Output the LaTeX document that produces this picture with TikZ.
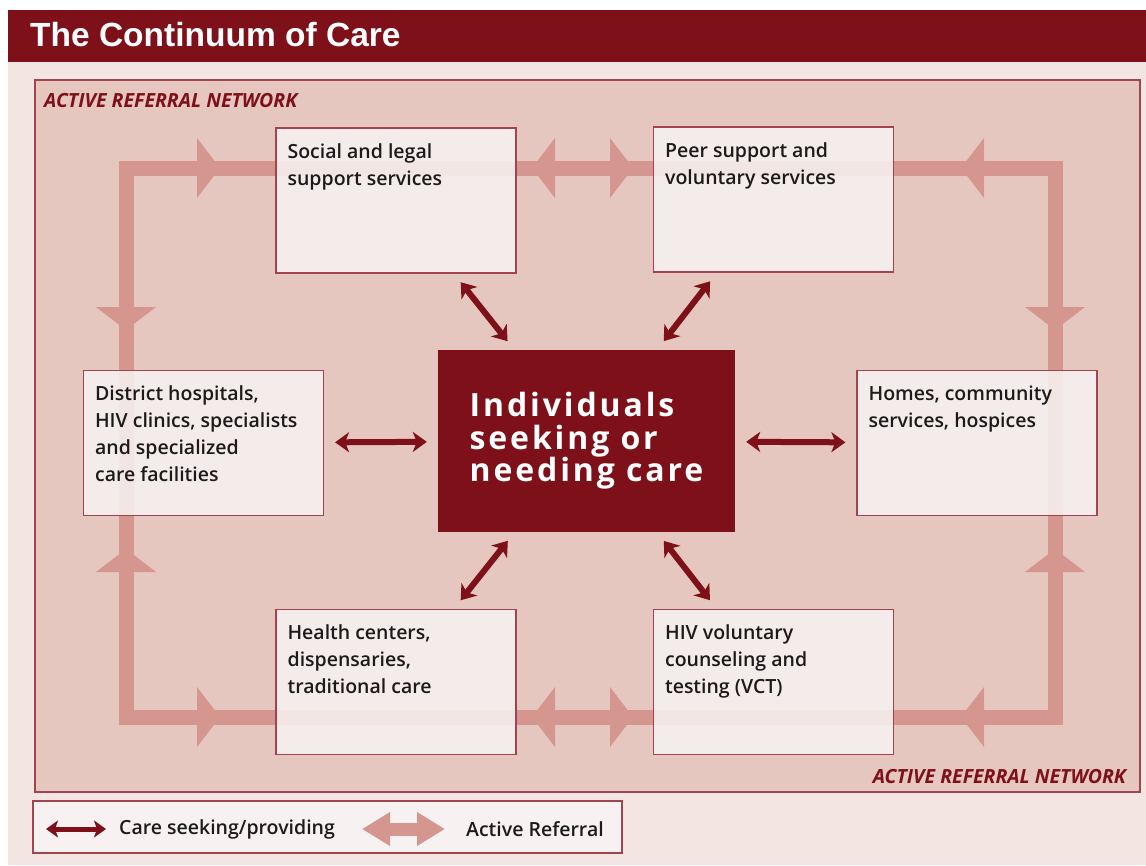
\documentclass[tikz,border=0pt]{standalone}
\usepackage{fontspec}
\setmainfont{Open Sans}
\newfontfamily\boxfont{Open Sans Semibold}
\newfontfamily\titlefont{Liberation Sans}
\newfontfamily\indivfont[LetterSpace=9]{Open Sans}
\usetikzlibrary{arrows.meta}

\definecolor{pagebg}{HTML}{F3E5E1}
\definecolor{netbg}{HTML}{E6C7BF}
\definecolor{refband}{HTML}{D4968F}
\definecolor{carered}{HTML}{7E1019}
\definecolor{boxline}{HTML}{A14450}
\definecolor{boxfill}{HTML}{F7F2F1}
\definecolor{boxtext}{HTML}{1C1A1A}

\tikzset{
  svcbox/.style={draw=boxline,line width=1.2pt,fill=boxfill,fill opacity=.88,minimum width=240pt,minimum height=145pt,inner sep=0pt},
  svctext/.style={anchor=north west,align=left,inner sep=0pt,text=boxtext,font=\boxfont\fontsize{19.5}{27}\selectfont,xshift=12pt,yshift=-16pt},
  care/.style={draw=carered,line width=6pt,{Stealth[length=14pt,width=20pt,inset=4pt]}-{Stealth[length=14pt,width=20pt,inset=4pt]},shorten <=11pt,shorten >=11pt},
  netlabel/.style={inner sep=0pt,text=carered,font=\bfseries\itshape\fontsize{19.5}{22}\selectfont},
  legtext/.style={anchor=west,inner sep=0pt,text=boxtext,font=\boxfont\fontsize{19.5}{22}\selectfont}
}

\begin{document}
\begin{tikzpicture}[x=1pt,y=-1pt]
	\useasboundingbox (0,0) rectangle (1146,865);
	\fill[pagebg] (8,10) rectangle (1146,865);
	\fill[carered] (8,10) rectangle (1146,62);
	\node[anchor=base west,inner sep=0pt,text=white,font=\titlefont\bfseries\fontsize{33.5}{38}\selectfont] (title) at (30,46) {The Continuum of Care};

	% referral network
	\draw[boxline,line width=1.2pt,fill=netbg] (35,80) rectangle (1140,792);
	\node[netlabel,anchor=base west] (nettop) at (44,107) {ACTIVE REFERRAL NETWORK};
	\node[netlabel,anchor=base east] (netbot) at (1126,783) {ACTIVE REFERRAL NETWORK};

	\coordinate (nw) at (126,168);
	\coordinate (ne) at (1055,168);
	\coordinate (se) at (1055,717);
	\coordinate (sw) at (126,717);
	\draw[refband,line width=15pt] (nw) -- (ne) -- (se) -- (sw) -- cycle;
	\foreach \x / \y / \a in {197/168/0,555/168/180,610/168/0,984/168/180,197/717/0,555/717/180,610/717/0,984/717/180,126/307/-90,126/572/90,1055/307/-90,1055/572/90} { \fill[refband,shift={(\x,\y)},rotate=\a] (0,-30) -- (23,0) -- (0,30) -- cycle;}

	% services
	\node[svcbox] (social) at (396,200.5) {};
	\node[svcbox] (peer) at (773.5,199.5) {};
	\node[svcbox] (district) at (203.5,443) {};
	\node[svcbox] (homes) at (977,443) {};
	\node[svcbox] (health) at (396,682) {};
	\node[svcbox] (hiv) at (773.5,682) {};
	\node[svctext] at (social.north west) {Social and legal\\support services};
	\node[svctext] at (peer.north west) {Peer support and\\voluntary services};
	\node[svctext] at (district.north west) {District hospitals,\\HIV clinics, specialists\\and specialized\\care facilities};
	\node[svctext] at (homes.north west) {Homes, community\\services, hospices};
	\node[svctext] at (health.north west) {Health centers,\\dispensaries,\\traditional care};
	\node[svctext] at (hiv.north west) {HIV voluntary\\counseling and\\testing (VCT)};

	\node[fill=carered,minimum width=297pt,minimum height=182pt,align=left,text=white,font=\indivfont\bfseries\fontsize{32}{32.5}\selectfont] (indiv) at (586.5,441) {Individuals\\seeking or\\needing care};

	% care seeking / providing
	\foreach \s in {social,peer,district,homes,health,hiv} { \draw[care] (\s) -- (indiv);}

	% legend
	\draw[boxline,line width=1.2pt,fill=boxfill] (33,801) rectangle (622,853);
	\coordinate (cs1) at (46,829);
	\coordinate (cs2) at (106,829);
	\draw[carered,line width=5pt,{Stealth[length=12pt,width=17pt,inset=3pt]}-{Stealth[length=12pt,width=17pt,inset=3pt]}] (cs1) -- (cs2);
	\node[legtext] (cslabel) at (119,829) {Care seeking/providing};
	\coordinate (ar1) at (362,829);
	\coordinate (ar2) at (445,829);
	\draw[refband,line width=13pt,{Triangle[length=28pt,width=32pt]}-{Triangle[length=28pt,width=32pt]}] (ar1) -- (ar2);
	\node[legtext] (arlabel) at (466,829) {Active Referral};
\end{tikzpicture}
\end{document}
